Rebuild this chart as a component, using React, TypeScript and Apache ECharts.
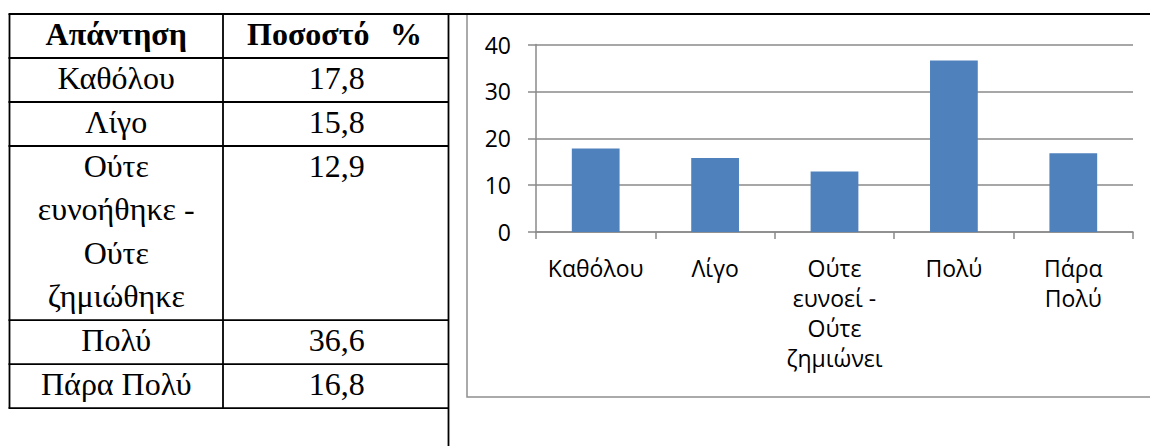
import React, { useEffect, useRef } from "react";
import * as echarts from "echarts";

// ---- data ----
const categories: string[] = ["Καθόλου", "Λίγο", "Ούτε ευνοεί - Ούτε ζημιώνει", "Πολύ", "Πάρα Πολύ"];
const values: number[] = [17.8, 15.8, 12.9, 36.6, 16.8];
const tableHeaderAnswer = "Απάντηση";
const tableHeaderPercent = "Ποσοστό";
const tableHeaderPercentSign = "%";
const tableAnswers: string[] = ["Καθόλου", "Λίγο", "Ούτε ευνοήθηκε - Ούτε ζημιώθηκε", "Πολύ", "Πάρα Πολύ"];
const yTicks: number[] = [0, 10, 20, 30, 40];

const wrap = (s: string) => s.replace(/ (?!-)/g, "\n");
const wrapTable = (s: string) => (s.length > 12 ? wrap(s) : s);
const fmtNum = (v: number) => v.toFixed(1).replace(".", ",");

export default function App() {
  const ref = useRef<HTMLDivElement>(null);
  useEffect(() => {
    if (!ref.current) return;
    const chart = echarts.init(ref.current, undefined, { renderer: "svg" });

    const sans = "Open Sans";
    const tFont = 32;
    const black = "#000";
    const lw = 1.8;

    const txt = (text: string, x: number, y: number, bold = false, align = "center") => ({
      type: "text",
      z: 5,
      style: {
        text,
        x,
        y,
        align,
        verticalAlign: "middle",
        font: `${bold ? "bold " : ""}${tFont}px Liberation Serif`,
        fill: black,
      },
    });

    // table geometry
    const xL = 9.5, xM = 223, xR = 448.5;
    const top = 14;
    const headerH = 44;
    const lineH = 43.4;
    const graphics: any[] = [];

    // chart border (grey box)
    graphics.push({
      type: "rect",
      z: 1,
      shape: { x: 467, y: 14, width: 720, height: 383 },
      style: { fill: "none", stroke: "#8f8f8f", lineWidth: 1.5 },
    });

    // top document line across page
    graphics.push({ type: "line", z: 5, shape: { x1: xL - 1, y1: top, x2: 1150, y2: top }, style: { stroke: black, lineWidth: lw } });

    graphics.push(txt(tableHeaderAnswer, (xL + xM) / 2, top + headerH / 2 - 2, true));
    graphics.push(txt(tableHeaderPercent, 247, top + headerH / 2 - 2, true, "left"));
    graphics.push(txt(tableHeaderPercentSign, 422, top + headerH / 2 - 2, true, "right"));

    let y = top + headerH;
    graphics.push({ type: "line", z: 5, shape: { x1: xL - 1, y1: y, x2: xR, y2: y }, style: { stroke: black, lineWidth: lw } });
    tableAnswers.forEach((ans, i) => {
      const lines = wrapTable(ans).split("\n");
      lines.forEach((ln, k) => {
        graphics.push(txt(ln, (xL + xM) / 2, y + 20 + k * lineH));
      });
      graphics.push(txt(fmtNum(values[i]), (xM + xR) / 2 + 1, y + 20));
      const h = 44 + (lines.length - 1) * lineH;
      y += h;
      graphics.push({ type: "line", z: 5, shape: { x1: xL - 1, y1: y, x2: xR, y2: y }, style: { stroke: black, lineWidth: lw } });
    });
    const tableBottom = y;
    graphics.push({ type: "line", z: 5, shape: { x1: xL, y1: top, x2: xL, y2: tableBottom }, style: { stroke: black, lineWidth: lw } });
    graphics.push({ type: "line", z: 5, shape: { x1: xM, y1: top, x2: xM, y2: tableBottom }, style: { stroke: black, lineWidth: lw } });
    graphics.push({ type: "line", z: 5, shape: { x1: xR, y1: top, x2: xR, y2: 446 }, style: { stroke: black, lineWidth: lw } });

    const grey = "#8a8a8a";
    chart.setOption({
      animation: false,
      backgroundColor: "#fff",
      grid: { left: 536, right: 17, top: 44.5, bottom: 214, containLabel: false },
      xAxis: {
        type: "category",
        data: categories,
        axisLine: { show: true, lineStyle: { color: grey, width: 1.5 } },
        axisTick: { show: true, length: 7, lineStyle: { color: grey, width: 1.5 } },
        axisLabel: {
          interval: 0,
          formatter: (v: string) => wrap(v),
          color: "#000",
          fontFamily: sans,
          fontSize: 23,
          lineHeight: 30,
          margin: 21,
        },
      },
      yAxis: {
        type: "value",
        min: yTicks[0],
        max: yTicks[yTicks.length - 1],
        interval: yTicks[1] - yTicks[0],
        axisLine: { show: true, lineStyle: { color: grey, width: 1.5 } },
        axisTick: { show: true, length: 8, lineStyle: { color: grey, width: 1.5 } },
        splitLine: { show: true, lineStyle: { color: grey, width: 1.5 } },
        axisLabel: { color: "#000", fontFamily: sans, fontSize: 23, margin: 25 },
      },
      series: [
        {
          type: "bar",
          data: values,
          barCategoryGap: "60%",
          itemStyle: { color: "#4F81BD" },
        },
      ],
      graphic: graphics,
    });
    return () => chart.dispose();
  }, []);
  return <div ref={ref} style={{ position: "fixed", left: 0, top: 0, width: 1150, height: 446 }} />;
}
